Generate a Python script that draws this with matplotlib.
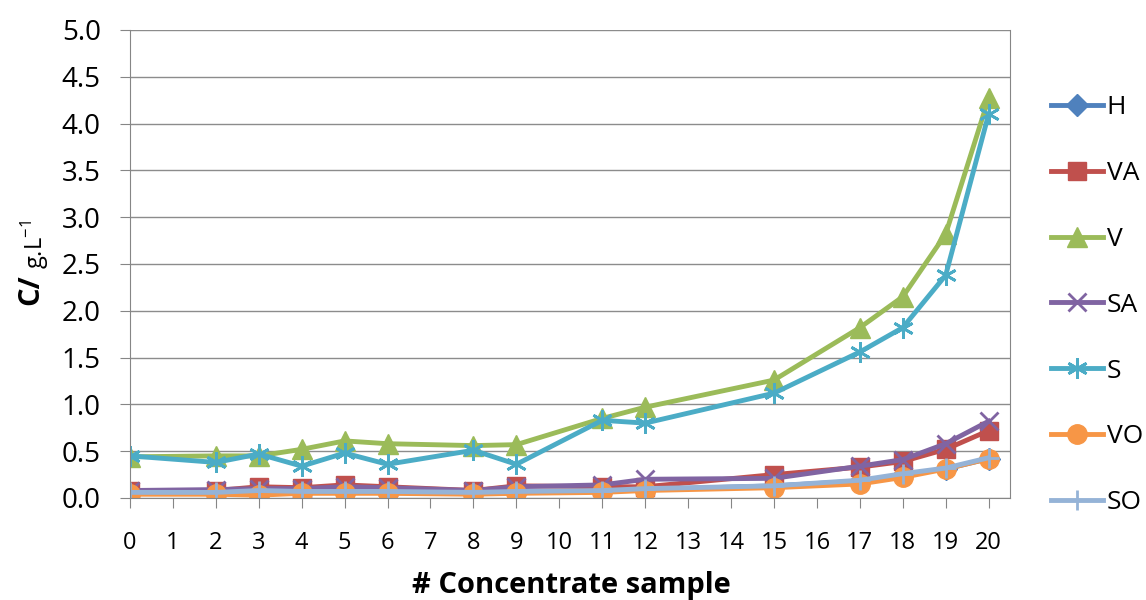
import matplotlib.pyplot as plt
import numpy as np

plt.rcParams['font.family'] = ['Open Sans', 'DejaVu Sans']
plt.rcParams['mathtext.fontset'] = 'custom'
plt.rcParams['mathtext.rm'] = 'Open Sans'
plt.rcParams['mathtext.bf'] = 'Open Sans:bold'

# amostras
x = [0, 2, 3, 4, 5, 6, 8, 9, 11, 12, 15, 17, 18, 19, 20]

H  = [0.05, 0.05, 0.06, 0.06, 0.06, 0.06, 0.05, 0.06, 0.07, 0.09, 0.13, 0.18, 0.25, 0.31, 0.42]
VA = [0.07, 0.08, 0.12, 0.11, 0.14, 0.12, 0.08, 0.13, 0.12, 0.12, 0.25, 0.33, 0.39, 0.52, 0.72]
V  = [0.44, 0.45, 0.45, 0.52, 0.61, 0.58, 0.56, 0.57, 0.85, 0.97, 1.26, 1.82, 2.15, 2.82, 4.27]
SA = [0.08, 0.09, 0.10, 0.10, 0.12, 0.11, 0.08, 0.12, 0.14, 0.20, 0.21, 0.34, 0.41, 0.58, 0.82]
S  = [0.45, 0.38, 0.47, 0.34, 0.48, 0.36, 0.51, 0.36, 0.83, 0.80, 1.12, 1.56, 1.82, 2.38, 4.10]
VO = [0.04, 0.04, 0.03, 0.05, 0.05, 0.05, 0.04, 0.05, 0.06, 0.08, 0.11, 0.15, 0.22, 0.31, 0.42]
SO = [0.06, 0.06, 0.08, 0.07, 0.07, 0.07, 0.06, 0.07, 0.08, 0.10, 0.13, 0.19, 0.26, 0.32, 0.43]

series = [
    ("H", H, "#4F81BD", "D", 11),
    ("VA", VA, "#C0504D", "s", 13),
    ("V", V, "#9BBB59", "^", 14),
    ("SA", SA, "#8064A2", "x", 13),
    ("S", S, "#4BACC6", (6, 2, 0), 15),
    ("VO", VO, "#F79646", "o", 14),
    ("SO", SO, "#95B3D7", "+", 15),
]

fig = plt.figure(figsize=(11.46, 6), dpi=100)
ax = fig.add_axes([0.1134, 0.17, 0.768, 0.78])

for nome, y, cor, mk, ms in series:
    ax.plot(x, y, color=cor, lw=3.5, marker=mk, markersize=ms,
            markeredgewidth=2 if mk in ("x", "+") or isinstance(mk, tuple) else 1,
            markeredgecolor=cor, markerfacecolor=cor, label=nome)

ax.set_xlim(0, 20.5)
ax.set_ylim(0, 5)
ax.set_xticks(range(0, 21))
ax.set_yticks(np.arange(0, 5.01, 0.5))
ax.set_yticklabels(["%.1f" % v for v in np.arange(0, 5.01, 0.5)])
ax.tick_params(color="#868686", length=7)
ax.tick_params(axis='x', labelsize=17, pad=17)
ax.tick_params(axis='y', labelsize=20, pad=14)
ax.grid(axis='y', color="#8c8c8c", lw=1)
ax.set_axisbelow(True)
for s in ax.spines.values():
    s.set_color("#868686")
ax.spines['top'].set_visible(False)

# rotulos dos eixos
fig.text(571 / 1146, 1 - 585 / 600, "# Concentrate sample", fontsize=21,
         fontweight='bold', ha='center', va='center')
fig.text(31 / 1146, 1 - 290 / 600, "C/", fontsize=21, fontweight='bold',
         rotation=90, ha='center', va='center')
fig.text(35 / 1146, 1 - 245 / 600, r"g.L$^{\mathregular{-1}}$", fontsize=17,
         rotation=90, ha='center', va='center')

ax.legend(loc='upper left', bbox_to_anchor=(1.019, 0.912), frameon=False,
          fontsize=19, labelspacing=1.55, handlelength=2.0, handletextpad=0.12)

fig.savefig("out.png", dpi=100)
